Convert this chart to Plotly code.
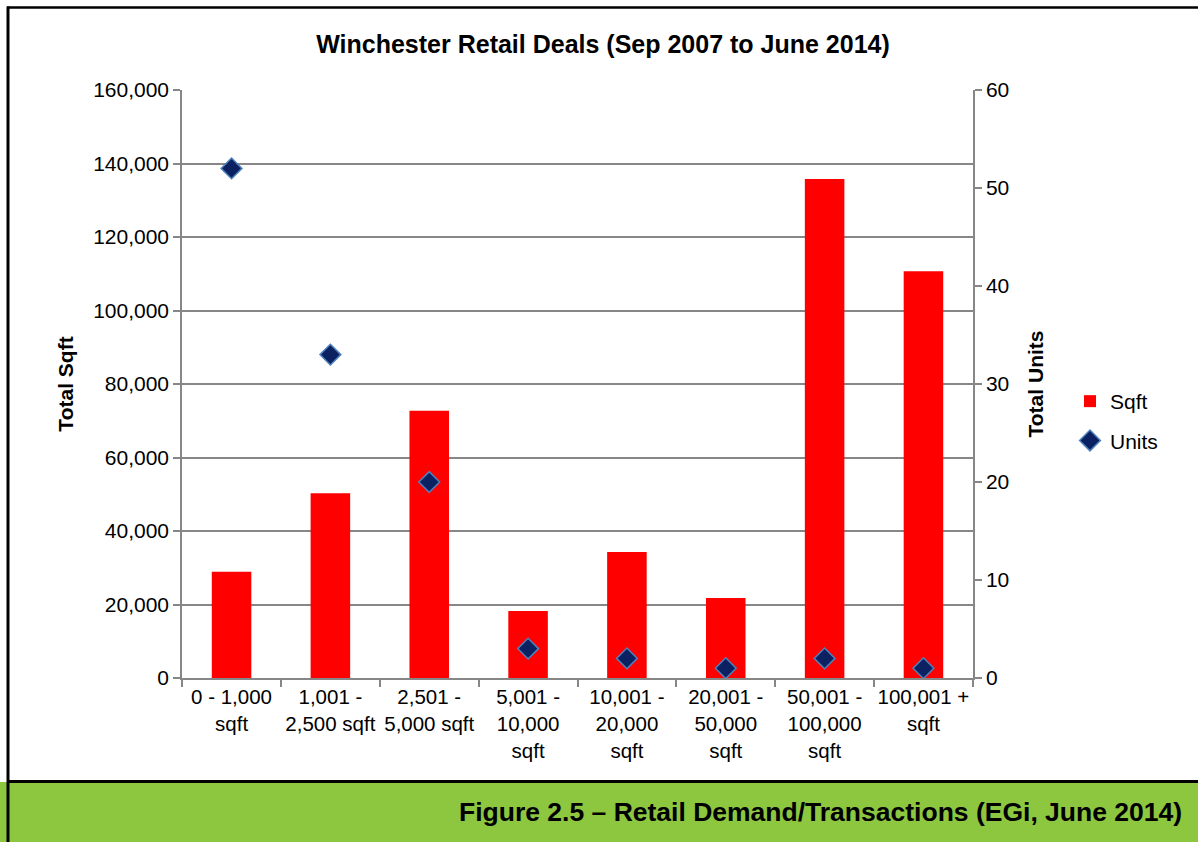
import plotly.graph_objects as go

# Deal size bands and totals
categories = [
    "0 - 1,000<br>sqft",
    "1,001 -<br>2,500 sqft",
    "2,501 -<br>5,000 sqft",
    "5,001 -<br>10,000<br>sqft",
    "10,001 -<br>20,000<br>sqft",
    "20,001 -<br>50,000<br>sqft",
    "50,001 -<br>100,000<br>sqft",
    "100,001 +<br>sqft",
]
sqft = [28900, 50300, 72700, 18200, 34300, 21800, 135800, 110700]
units = [52, 33, 20, 3, 2, 1, 2, 1]

W, H = 1198, 842
L, R, T, B = 182, 973, 90, 678  # plot area in pixels


def px(x):
    return (x - L) / (R - L)


def py(y):
    return (B - y) / (B - T)


FONT = "Liberation Sans, Arial, sans-serif"
GRID = "#878787"

fig = go.Figure()
fig.add_trace(go.Bar(
    x=categories, y=sqft, name="Sqft", legendgroup="a",
    marker=dict(color="#FF0000", line=dict(width=0)),
    width=0.4,
))
fig.add_trace(go.Scatter(
    x=categories, y=units, name="Units", legendgroup="b", yaxis="y2", mode="markers",
    marker=dict(symbol="diamond", size=16, color="#0B2161",
                line=dict(color="#4F81BD", width=1.5)),
))

fig.update_layout(
    width=W, height=H,
    margin=dict(l=L, r=W - R, t=T, b=H - B),
    paper_bgcolor="white", plot_bgcolor="white",
    font=dict(family=FONT, size=21, color="black"),
    title=dict(text="<b>Winchester Retail Deals (Sep 2007 to June 2014)</b>",
               x=603 / W, xanchor="center", y=1 - 44 / H, yanchor="middle",
               font=dict(size=25, family=FONT)),
    showlegend=True,
    legend=dict(x=px(1070), xanchor="left", y=py(421), yanchor="middle",
                font=dict(size=21), traceorder="grouped", tracegroupgap=9,
                bgcolor="rgba(0,0,0,0)"),
    bargap=0.6,
    xaxis=dict(showline=True, linecolor=GRID, linewidth=1.5, ticks="outside",
               tickson="boundaries", ticklen=7, tickcolor=GRID, tickwidth=1.5,
               showgrid=False, tickangle=0, tickfont=dict(size=20.5)),
    yaxis=dict(range=[0, 160000], dtick=20000, tickformat=",", showline=True,
               linecolor=GRID, linewidth=1.5, ticks="outside", ticklen=7,
               tickcolor=GRID, tickwidth=1.5, showgrid=True, gridcolor=GRID,
               gridwidth=1.5, zeroline=False, tickfont=dict(size=21),
               title=dict(text="<b>Total Sqft</b>", font=dict(size=21), standoff=14)),
    yaxis2=dict(range=[0, 60], dtick=10, overlaying="y", side="right",
                showline=True, linecolor=GRID, linewidth=1.5, ticks="outside",
                ticklen=7, tickcolor=GRID, tickwidth=1.5, showgrid=False,
                zeroline=False, tickfont=dict(size=21),
                title=dict(text="<b>Total Units</b>", font=dict(size=21), standoff=20)),
)

# Frame and caption banner
shapes = [
    dict(type="rect", xref="paper", yref="paper", x0=px(0), x1=px(W), y0=py(H), y1=py(782),
         fillcolor="#8DC63F", line=dict(width=0), layer="below"),
    dict(type="line", xref="paper", yref="paper", x0=px(7), x1=px(W), y0=py(781.5), y1=py(781.5),
         line=dict(color="black", width=3)),
    dict(type="line", xref="paper", yref="paper", x0=px(7), x1=px(W), y0=py(7.5), y1=py(7.5),
         line=dict(color="black", width=2.5)),
    dict(type="line", xref="paper", yref="paper", x0=px(8), x1=px(8), y0=py(6.5), y1=py(H),
         line=dict(color="black", width=3)),
]
fig.update_layout(shapes=shapes)
fig.add_annotation(
    text="<b>Figure 2.5 – Retail Demand/Transactions (EGi, June 2014)</b>",
    xref="paper", yref="paper", x=px(1184), y=py(812), xanchor="right", yanchor="middle",
    showarrow=False, font=dict(family="Liberation Sans Narrow, Arial Narrow, Liberation Sans, sans-serif",
                               size=26.5, color="black"),
)

fig.write_html("out.html")
